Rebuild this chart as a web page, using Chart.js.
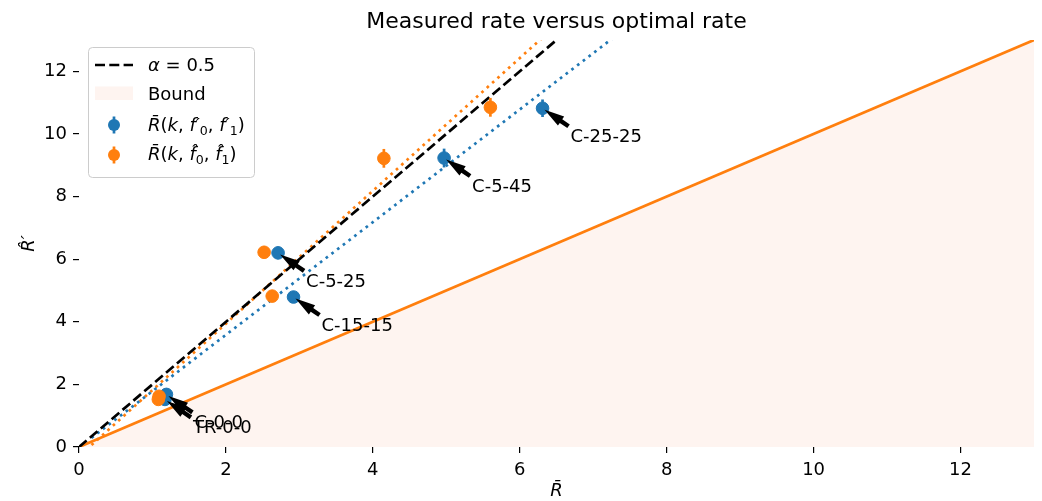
<!DOCTYPE html>
<html>
<head>
<meta charset="utf-8">
<script src="https://cdn.jsdelivr.net/npm/chart.js@4.4.0/dist/chart.umd.min.js"></script>
<style>
  html, body { margin: 0; padding: 0; background: #fff; }
  #wrap { width: 1042px; height: 501px; }
</style>
</head>
<body>
<div id="wrap"><canvas id="rate-chart"></canvas></div>
<script>
// configurations and measured rates
const configNames = ["C-0-0", "TR-0-0", "C-5-25", "C-15-15", "C-5-45", "C-25-25"];
const primeX = [1.19, 1.17, 2.71, 2.92, 4.97, 6.31];
const primeY = [1.68, 1.52, 6.20, 4.79, 9.23, 10.82];
const primeErr = [0.15, 0.15, 0.20, 0.15, 0.30, 0.28];
const hatX = [1.09, 1.08, 2.52, 2.63, 4.15, 5.60];
const hatY = [1.62, 1.52, 6.22, 4.82, 9.22, 10.85];
const hatErr = [0.15, 0.15, 0.20, 0.12, 0.30, 0.30];

// fitted lines, two end points each
const primeFitX = [0.17, 7.4];
const primeFitY = [0.29, 13.3];
const hatFitX = [0.17, 6.4];
const hatFitY = [0.06, 13.27];
const alphaX = [0, 6.6];
const alphaY = [0, 13.2];
const boundX = [0, 13];
const boundY = [0, 13];

const xTicks = [0, 2, 4, 6, 8, 10, 12];
const yTicks = [0, 2, 4, 6, 8, 10, 12];

const chartTitle = "Measured rate versus optimal rate";

const BLUE = "#1f77b4";
const ORANGE = "#ff7f0e";
const BOUND_FILL = "rgba(245, 150, 110, 0.1)";
const FONT = "'DejaVu Sans', sans-serif";

const pts = (xs, ys) => xs.map((x, i) => ({ x: x, y: ys[i] }));

// vertical error bars, drawn just under each marker set
const errorBars = {
    id: "errorBars",
    beforeDatasetDraw(chart, args) {
        const ds = chart.data.datasets[args.index];
        if (!ds.errors) return;
        const { ctx, scales: { x, y } } = chart;
        ctx.save();
        ctx.strokeStyle = ds.backgroundColor;
        ctx.lineWidth = 2.7;
        ds.data.forEach((p, i) => {
            const px = x.getPixelForValue(p.x);
            ctx.beginPath();
            ctx.moveTo(px, y.getPixelForValue(p.y - ds.errors[i]));
            ctx.lineTo(px, y.getPixelForValue(p.y + ds.errors[i]));
            ctx.stroke();
        });
        ctx.restore();
    }
};

function drawArrow(ctx, x0, y0, x1, y1) {
    const ang = Math.atan2(y1 - y0, x1 - x0);
    const len = Math.hypot(x1 - x0, y1 - y0);
    const head = Math.min(20, len * 0.72);
    const hw = 5.5, sw = 2.2;
    ctx.save();
    ctx.translate(x1, y1);
    ctx.rotate(ang);
    ctx.beginPath();
    ctx.moveTo(0, 0);
    ctx.lineTo(-head, -hw);
    ctx.lineTo(-head, -sw);
    ctx.lineTo(-len, -sw);
    ctx.lineTo(-len, sw);
    ctx.lineTo(-head, sw);
    ctx.lineTo(-head, hw);
    ctx.closePath();
    ctx.fillStyle = "#000";
    ctx.fill();
    ctx.restore();
}

// configuration names with arrows pointing at the R' markers
const pointLabels = {
    id: "pointLabels",
    afterDatasetsDraw(chart) {
        const { ctx, scales: { x, y } } = chart;
        ctx.save();
        ctx.font = "18px " + FONT;
        ctx.fillStyle = "#000";
        ctx.textBaseline = "middle";
        configNames.forEach((name, i) => {
            const px = x.getPixelForValue(primeX[i]);
            const py = y.getPixelForValue(primeY[i]);
            drawArrow(ctx, px + 26, py + 18, px + 2, py + 1.5);
            ctx.fillText(name, px + 28, py + 29);
        });
        ctx.restore();
    }
};

// title centred over the plot area
const plotTitle = {
    id: "plotTitle",
    afterDraw(chart) {
        const { ctx, chartArea } = chart;
        ctx.save();
        ctx.font = "22px " + FONT;
        ctx.fillStyle = "#000";
        ctx.textAlign = "center";
        ctx.textBaseline = "alphabetic";
        ctx.fillText(chartTitle, (chartArea.left + chartArea.right) / 2, 28);
        ctx.restore();
    }
};

// text with italic symbols and subscripts
function drawParts(ctx, x, y, parts) {
    parts.forEach(([t, kind]) => {
        if (kind === "s") {
            ctx.font = "12.6px " + FONT;
            ctx.fillText(t, x, y + 4);
        } else {
            ctx.font = (kind === "i" ? "italic " : "") + "18px " + FONT;
            ctx.fillText(t, x, y);
        }
        x += ctx.measureText(t).width;
    });
}

function drawMarker(ctx, cx, cy, color) {
    ctx.strokeStyle = color;
    ctx.lineWidth = 2.7;
    ctx.beginPath();
    ctx.moveTo(cx, cy - 8.5);
    ctx.lineTo(cx, cy + 8.5);
    ctx.stroke();
    ctx.fillStyle = color;
    ctx.beginPath();
    ctx.arc(cx, cy, 6, 0, Math.PI * 2);
    ctx.fill();
}

const mathLegend = {
    id: "mathLegend",
    afterDraw(chart) {
        const ctx = chart.ctx;
        ctx.save();
        ctx.beginPath();
        ctx.roundRect(88.5, 47.5, 166, 130, 4);
        ctx.fillStyle = "rgba(255,255,255,0.8)";
        ctx.fill();
        ctx.strokeStyle = "#cccccc";
        ctx.lineWidth = 1;
        ctx.stroke();

        // dashed handle
        ctx.strokeStyle = "#000";
        ctx.lineWidth = 2.7;
        ctx.setLineDash([10, 4.3]);
        ctx.beginPath();
        ctx.moveTo(95, 65);
        ctx.lineTo(133, 65);
        ctx.stroke();
        ctx.setLineDash([]);

        ctx.fillStyle = BOUND_FILL;
        ctx.fillRect(95, 86.5, 38, 13.5);

        drawMarker(ctx, 114, 125, BLUE);
        drawMarker(ctx, 114, 155, ORANGE);

        ctx.fillStyle = "#000";
        ctx.textBaseline = "alphabetic";
        drawParts(ctx, 148, 71, [["\u03b1", "i"], [" = 0.5", "r"]]);
        drawParts(ctx, 148, 99.5, [["Bound", "r"]]);
        drawParts(ctx, 148, 131, [["R\u0304", "i"], ["(", "r"], ["k", "i"], [", ", "r"],
            ["f\u2032", "i"], ["0", "s"], [", ", "r"], ["f\u2032", "i"], ["1", "s"], [")", "r"]]);
        drawParts(ctx, 148, 160, [["R\u0304", "i"], ["(", "r"], ["k", "i"], [", ", "r"],
            ["f\u0302", "i"], ["0", "s"], [", ", "r"], ["f\u0302", "i"], ["1", "s"], [")", "r"]]);
        ctx.restore();
    }
};

Chart.defaults.font.family = FONT;
Chart.defaults.font.size = 18;
Chart.defaults.color = "#000";

const ctx = document.getElementById("rate-chart");

new Chart(ctx, {
    type: "scatter",
    data: {
        datasets: [
            {
                type: "line",
                label: "alpha = 0.5",
                data: pts(alphaX, alphaY),
                borderColor: "#000",
                borderWidth: 2.7,
                borderDash: [10, 4.3],
                pointRadius: 0,
                fill: false,
                order: 3
            },
            {
                type: "line",
                label: "Bound",
                data: pts(boundX, boundY),
                borderColor: ORANGE,
                borderWidth: 2.7,
                backgroundColor: BOUND_FILL,
                pointRadius: 0,
                fill: "origin",
                order: 6
            },
            {
                type: "line",
                label: "fit prime",
                data: pts(primeFitX, primeFitY),
                borderColor: BLUE,
                borderWidth: 2.7,
                borderDash: [2.7, 4.5],
                pointRadius: 0,
                fill: false,
                order: 4
            },
            {
                type: "line",
                label: "fit hat",
                data: pts(hatFitX, hatFitY),
                borderColor: ORANGE,
                borderWidth: 2.7,
                borderDash: [2.7, 4.5],
                pointRadius: 0,
                fill: false,
                order: 5
            },
            {
                label: "R(k, f'0, f'1)",
                data: pts(primeX, primeY),
                errors: primeErr,
                backgroundColor: BLUE,
                borderColor: BLUE,
                pointRadius: 6.3,
                order: 1
            },
            {
                label: "R(k, f^0, f^1)",
                data: pts(hatX, hatY),
                errors: hatErr,
                backgroundColor: ORANGE,
                borderColor: ORANGE,
                pointRadius: 6.3,
                order: 0
            }
        ]
    },
    options: {
        responsive: true,
        maintainAspectRatio: false,
        animation: false,
        layout: { padding: { left: 0, right: 8, top: 40, bottom: 0 } },
        plugins: {
            legend: { display: false },
            tooltip: { enabled: false },
            title: { display: false }
        },
        scales: {
            x: {
                type: "linear",
                min: 0,
                max: 13,
                afterBuildTicks: s => { s.ticks = xTicks.map(v => ({ value: v })); },
                afterFit: s => { s.height = 54; },
                grid: { drawOnChartArea: false, drawTicks: true, tickLength: 6, color: "#000", lineWidth: 1.2 },
                border: { display: false },
                ticks: { padding: 7, maxRotation: 0, color: "#000" },
                title: {
                    display: true,
                    text: "R\u0304",
                    color: "#000",
                    font: { size: 18, style: "italic" },
                    padding: { top: 0, bottom: -1 }
                }
            },
            y: {
                type: "linear",
                min: 0,
                max: 13,
                afterBuildTicks: s => { s.ticks = yTicks.map(v => ({ value: v })); },
                afterFit: s => { s.width = 79; },
                grid: { drawOnChartArea: false, drawTicks: true, tickLength: 6, color: "#000", lineWidth: 1.2 },
                border: { display: false },
                ticks: { padding: 6, color: "#000" },
                title: {
                    display: true,
                    text: "R\u0302\u2032",
                    color: "#000",
                    font: { size: 18, style: "italic" },
                    padding: { top: 19, bottom: 0 }
                }
            }
        }
    },
    plugins: [errorBars, pointLabels, mathLegend, plotTitle]
});
</script>
</body>
</html>
